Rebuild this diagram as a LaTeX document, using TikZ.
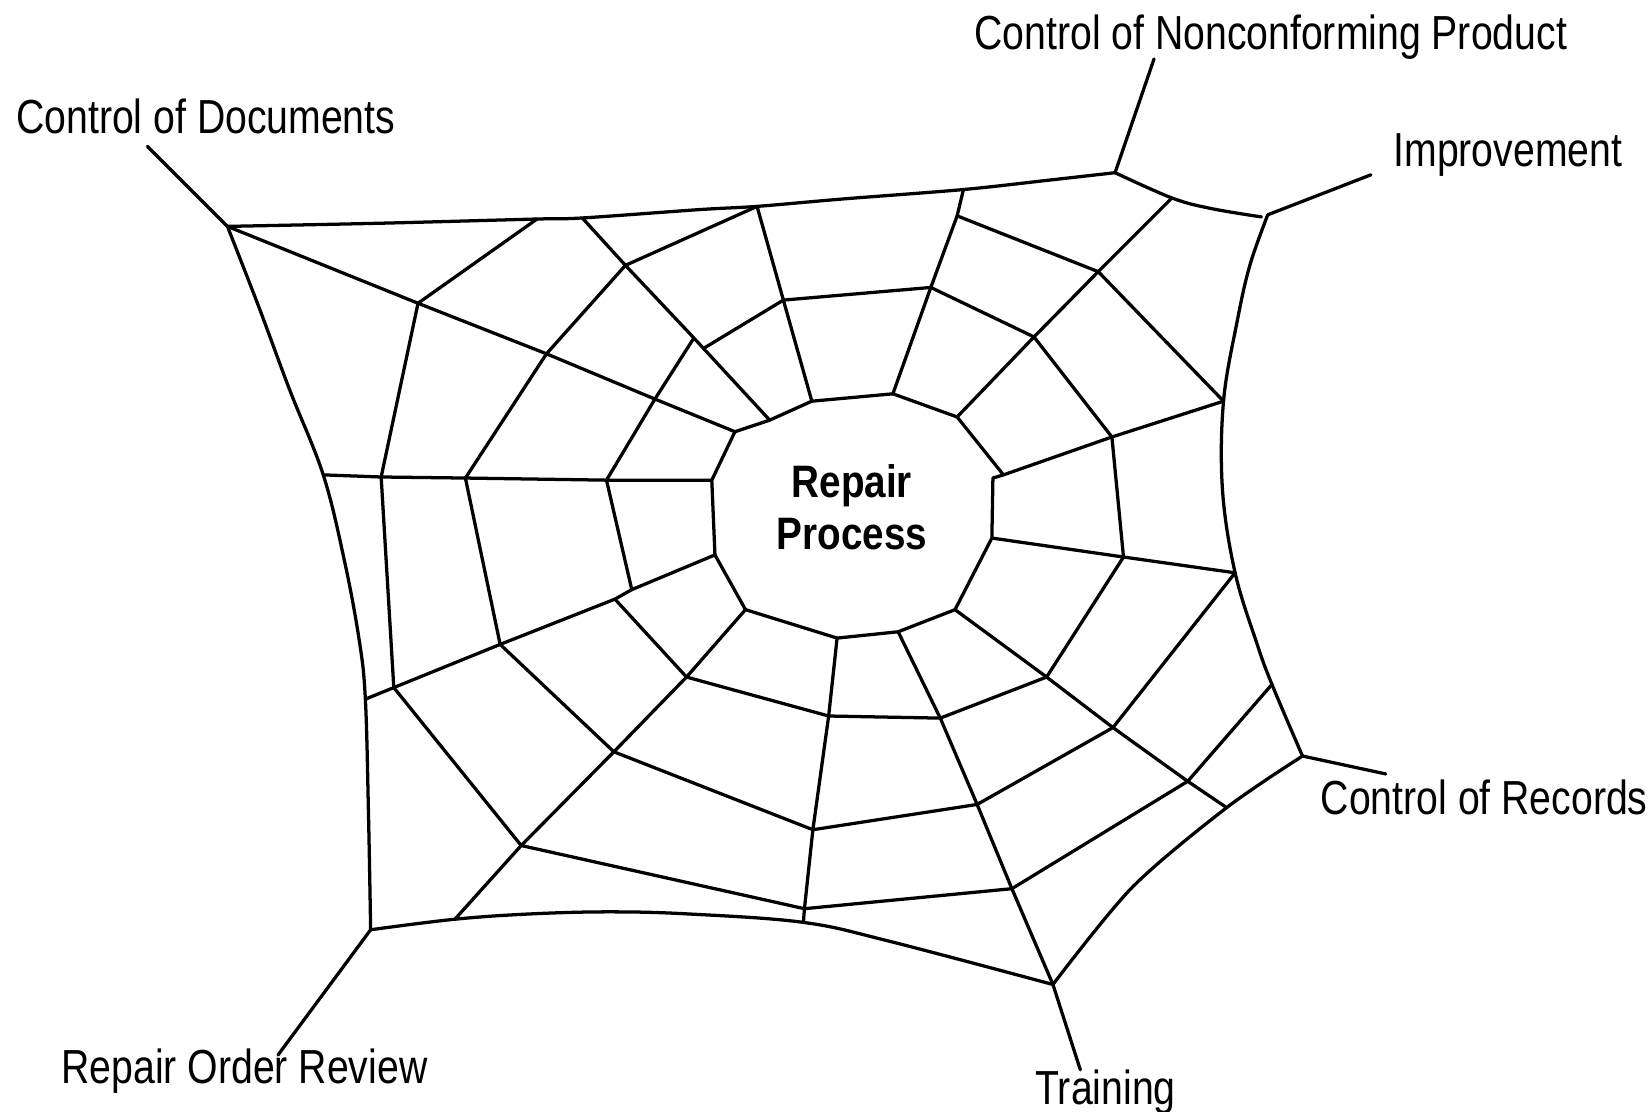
\documentclass[tikz,border=0pt]{standalone}
\usepackage{fontspec}
\setmainfont{Liberation Sans}[FakeStretch=0.82]
\newfontfamily\hubfont{Liberation Sans}[FakeStretch=0.85]
\begin{document}
\begin{tikzpicture}[x=0.5pt,y=-0.5pt,
  thread/.style={line width=1.55pt, line join=round, line cap=round},
  tag/.style={anchor=base west, inner sep=0pt, font=\fontsize{22.7}{26}\selectfont},
  centre/.style={inner sep=0pt, align=center, font=\hubfont\bfseries\fontsize{21.6}{24.5}\selectfont}]
\fill[white] (0,0) rectangle (1568,1056);
\useasboundingbox (0,0) rectangle (1568,1056);

% ---- outer frame of the web ----
\coordinate (tl)  at (216,215);
\coordinate (ft1) at (361,212);
\coordinate (t1)  at (510,208);
\coordinate (t2)  at (553,207);
\coordinate (ft2) at (665,199);
\coordinate (t3)  at (719,196);
\coordinate (ft4) at (800,189);
\coordinate (t4)  at (915,180);
\coordinate (ft3) at (997,171);
\coordinate (tn)  at (1059,164);
\coordinate (t5)  at (1113,188);
\coordinate (fc)  at (1150,198);
\coordinate (tc)  at (1198,206);
\coordinate (im)  at (1204,204);
\coordinate (r1)  at (1187,252);
\coordinate (r2)  at (1175,305);
\coordinate (r6)  at (1162,381);
\coordinate (r3)  at (1161,465);
\coordinate (r7)  at (1173,544);
\coordinate (r4)  at (1194,612);
\coordinate (rR4) at (1208,650);
\coordinate (cr)  at (1237,718);
\coordinate (s8)  at (1165,767);
\coordinate (b1)  at (1075,843);
\coordinate (tr)  at (1000,935);
\coordinate (b2)  at (845,894);
\coordinate (s10) at (763,876);
\coordinate (b3)  at (654,868);
\coordinate (b4)  at (578,866);
\coordinate (b5)  at (503,868);
\coordinate (s11) at (432,873);
\coordinate (ro)  at (352,883);
\coordinate (lx)  at (350,775);
\coordinate (l12) at (347,664);
\coordinate (l1)  at (341,607);
\coordinate (l2)  at (327,532);
\coordinate (l13) at (307,451);
\coordinate (l3)  at (275,370);
\coordinate (l4)  at (246,292);

% ---- free ends of the anchor threads ----
\coordinate (docL) at (140,139);
\coordinate (ncL)  at (1096,56);
\coordinate (imL)  at (1302,166);
\coordinate (crL)  at (1316,735);
\coordinate (trL)  at (1026,1016);
\coordinate (roL)  at (264,1002);

% ---- hub ----
\coordinate (p1)  at (698,410);
\coordinate (p2)  at (731,399);
\coordinate (p3)  at (771,381);
\coordinate (p4)  at (848,374);
\coordinate (p5)  at (909,396);
\coordinate (p6)  at (953,451);
\coordinate (p6b) at (943,454);
\coordinate (p7)  at (942,511);
\coordinate (p8)  at (907,579);
\coordinate (p9)  at (853,600);
\coordinate (p10) at (795,606);
\coordinate (p11) at (708,579);
\coordinate (p12) at (679,527);
\coordinate (p13) at (676,456);

% ---- junctions on the radial threads ----
\coordinate (a1) at (397,288);
\coordinate (a2) at (519,336);
\coordinate (a3) at (622,379);
\coordinate (bb1) at (594,252);
\coordinate (bb2) at (659,321);
\coordinate (bb3) at (668,331);
\coordinate (c2) at (744,285);
\coordinate (d4) at (909,205);
\coordinate (d2) at (884,273);
\coordinate (e4) at (1043,258);
\coordinate (e2) at (982,320);
\coordinate (f2) at (1056,415);
\coordinate (g2) at (1067,529);
\coordinate (hh4) at (1128,742);
\coordinate (hh3) at (1057,691);
\coordinate (hh2) at (994,643);
\coordinate (i4) at (961,844);
\coordinate (i3) at (928,764);
\coordinate (i2) at (893,682);
\coordinate (j4) at (764,863);
\coordinate (j3) at (772,788);
\coordinate (j2) at (787,680);
\coordinate (k4) at (495,803);
\coordinate (k3) at (583,714);
\coordinate (k2) at (652,643);
\coordinate (m4) at (374,653);
\coordinate (m3) at (475,612);
\coordinate (m2) at (584,569);
\coordinate (m2b) at (600,560);
\coordinate (n4) at (362,453);
\coordinate (n3) at (442,454);
\coordinate (n2) at (576,456);

% frame
\draw[thread] plot[smooth,tension=0.5] coordinates {(tl) (ft1) (t1) (t2) (ft2) (t3) (ft4) (t4) (ft3) (tn)};
\draw[thread] plot[smooth,tension=0.6] coordinates {(tn) (t5) (fc) (tc)};
\draw[thread] plot[smooth,tension=0.6] coordinates {(im) (r1) (r2) (r6) (r3) (r7) (r4) (rR4) (cr)};
\draw[thread] plot[smooth,tension=0.5] coordinates {(cr) (s8) (b1) (tr)};
\draw[thread] plot[smooth,tension=0.6] coordinates {(tr) (b2) (s10) (b3) (b4) (b5) (s11) (ro)};
\draw[thread] plot[smooth,tension=0.6] coordinates {(ro) (lx) (l12) (l1) (l2) (l13) (l3) (l4) (tl)};

% anchor threads
\draw[thread] (tl) -- (docL);
\draw[thread] (tn) -- (ncL);
\draw[thread] (im) -- (imL);
\draw[thread] (cr) -- (crL);
\draw[thread] (tr) -- (trL);
\draw[thread] (ro) -- (roL);

% radial threads
\draw[thread] (tl) -- (a1) -- (a2) -- (a3) -- (p1);
\draw[thread] (t2) -- (bb1) -- (bb2) -- (p2);
\draw[thread] (t3) -- (c2) -- (p3);
\draw[thread] (t4) -- (d4) -- (d2) -- (p4);
\draw[thread] (t5) -- (e4) -- (e2) -- (p5);
\draw[thread] (r6) -- (f2) -- (p6);
\draw[thread] (r7) -- (g2) -- (p7);
\draw[thread] (s8) -- (hh4) -- (hh3) -- (hh2) -- (p8);
\draw[thread] (tr) -- (i4) -- (i3) -- (i2) -- (p9);
\draw[thread] (s10) -- (j4) -- (j3) -- (j2) -- (p10);
\draw[thread] (s11) -- (k4) -- (k3) -- (k2) -- (p11);
\draw[thread] (l12) -- (m4) -- (m3) -- (m2) -- (m2b) -- (p12);
\draw[thread] (l13) -- (n4) -- (n3) -- (n2) -- (p13);

% spiral threads
\draw[thread] (t1) -- (a1) -- (n4) -- (m4) -- (k4) -- (j4) -- (i4) -- (hh4) -- (rR4);
\draw[thread] (t3) -- (bb1) -- (a2) -- (n3) -- (m3) -- (k3) -- (j3) -- (i3) -- (hh3) -- (r7);
\draw[thread] (d4) -- (e4) -- (r6);
\draw[thread] (bb2) -- (a3) -- (n2) -- (m2b);
\draw[thread] (m2) -- (k2) -- (j2) -- (i2) -- (hh2) -- (g2) -- (f2) -- (e2) -- (d2) -- (c2) -- (bb3);

% hub
\draw[thread] (p1) -- (p2) -- (p3) -- (p4) -- (p5) -- (p6) -- (p6b) -- (p7) -- (p8) -- (p9) -- (p10) -- (p11) -- (p12) -- (p13) -- cycle;
\node[centre] (hub) at (809,482) {Repair\\Process};

% labels
\node[tag] (docs) at (15,127) {Control of Documents};
\node[tag] (noncon) at (925,47) {Control of Nonconforming Product};
\node[tag] (improve) at (1323,158) {Improvement};
\node[tag] (records) at (1254,774) {Control of Records};
\node[tag] (training) at (983,1049) {Training};
\node[tag] (review) at (58,1029) {Repair Order Review};
\end{tikzpicture}
\end{document}
